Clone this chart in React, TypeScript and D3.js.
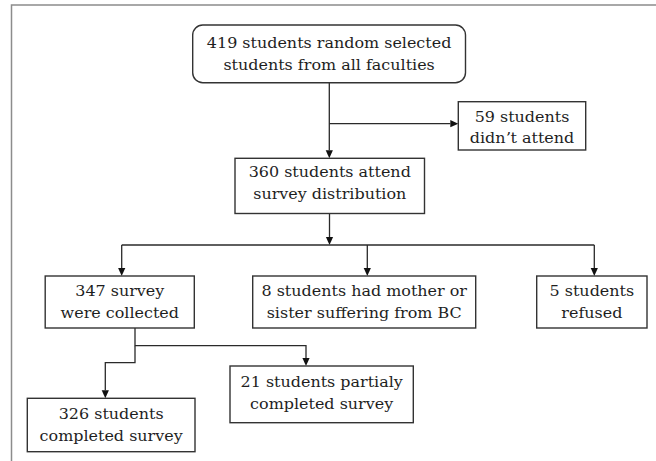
import React from "react";
import * as d3 from "d3";

// ---- data ----
const counts = [419, 59, 360, 347, 8, 5, 326, 21];
const labels: string[][] = [
  ["419 students random selected", "students from all faculties"],
  ["59 students", "didn\u02bct attend"],
  ["360 students attend", "survey distribution"],
  ["347 survey", "were collected"],
  ["8 students had mother or", "sister suffering from BC"],
  ["5 students", "refused"],
  ["326 students", "completed survey"],
  ["21 students partialy", "completed survey"],
];

// ---- layout (box extents in px) ----
const boxX0 = [192.7, 458.3, 235, 45.2, 252.7, 536.7, 27.3, 230];
const boxX1 = [465.5, 585.7, 424.5, 194.3, 475.7, 647, 195, 413.3];
const boxY0 = [25, 101.7, 158.3, 276, 276, 276, 398.3, 366];
const boxY1 = [82.7, 150, 213.5, 328, 328, 328, 451.7, 422.7];
const baseline1 = [48, 121.5, 177.3, 296, 296, 296, 419, 387.3];
const radius = [10, 0, 0, 0, 0, 0, 0, 0];

const connectors: { pts: [number, number][]; arrow: boolean }[] = [
  { pts: [[329.3, 82.7], [329.3, 158.3]], arrow: true },
  { pts: [[329.3, 123.7], [458.3, 123.7]], arrow: true },
  { pts: [[329.5, 213.5], [329.5, 245]], arrow: true },
  { pts: [[121.7, 245], [594.3, 245]], arrow: false },
  { pts: [[121.7, 245], [121.7, 276]], arrow: true },
  { pts: [[367.3, 245], [367.3, 276]], arrow: true },
  { pts: [[594.3, 245], [594.3, 276]], arrow: true },
  { pts: [[135, 328], [135, 345.7], [306, 345.7], [306, 366]], arrow: true },
  { pts: [[135, 345.7], [135, 362.7], [105.3, 362.7], [105.3, 398.3]], arrow: true },
];

const W = 656;
const H = 461;
const FONT = 14;
const SX = 1.14;
const LINE_GAP = 21.5;

function arrowHead(p: [number, number], q: [number, number]) {
  const ang = Math.atan2(q[1] - p[1], q[0] - p[0]);
  const len = 8, half = 3.6;
  const bx = q[0] - len * Math.cos(ang);
  const by = q[1] - len * Math.sin(ang);
  const nx = -Math.sin(ang), ny = Math.cos(ang);
  const path = d3.path();
  path.moveTo(q[0], q[1]);
  path.lineTo(bx + nx * half, by + ny * half);
  path.lineTo(bx - nx * half, by - ny * half);
  path.closePath();
  return { d: path.toString(), bx, by };
}

export default function App() {
  const line = d3.line<[number, number]>().x((d) => d[0]).y((d) => d[1]);
  return (
    <svg width={W} height={H} style={{ position: "absolute", left: 0, top: 0, background: "#fff" }}>
      <rect x={0} y={0} width={W} height={H} fill="#fff" />
      <path d={line([[11.5, H], [11.5, 5], [W, 5]]) || ""} fill="none" stroke="#8c8c8c" strokeWidth={1.5} />
      {connectors.map((c, i) => {
        const pts = c.pts.slice();
        let head = null;
        if (c.arrow) {
          const p = pts[pts.length - 2];
          const q = pts[pts.length - 1];
          head = arrowHead(p, q);
          pts[pts.length - 1] = [head.bx, head.by];
        }
        return (
          <g key={i}>
            <path d={line(pts) || ""} fill="none" stroke="#2a2a2a" strokeWidth={1.3} />
            {head && <path d={head.d} fill="#111" />}
          </g>
        );
      })}
      {counts.map((n, i) => {
        const cx = (boxX0[i] + boxX1[i]) / 2;
        return (
          <g key={n + "-" + i}>
            <rect x={boxX0[i]} y={boxY0[i]} width={boxX1[i] - boxX0[i]} height={boxY1[i] - boxY0[i]} rx={radius[i]} fill="#fff" stroke="#333" strokeWidth={1.4} />
            {labels[i].map((t, j) => (
              <text key={j} transform={`translate(${cx},${baseline1[i] + j * LINE_GAP}) scale(${SX},1)`} textAnchor="middle" fontFamily="DejaVu Serif" fontSize={FONT} fill="#1e1e1e">
                {t}
              </text>
            ))}
          </g>
        );
      })}
    </svg>
  );
}
